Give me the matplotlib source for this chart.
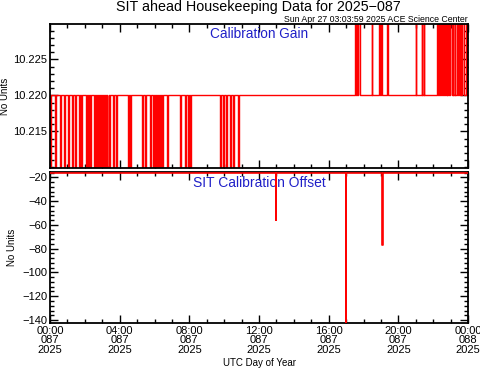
import numpy as np
import matplotlib
matplotlib.use("Agg")
import matplotlib.pyplot as plt
from matplotlib.ticker import MultipleLocator, FormatStrFormatter

# hours of day 087, 2025
gain_base = 10.220
gain_low = 10.210
gain_high = 10.230
# short drops to 10.210 (start hour, duration in hours)
gain_low_start = [0.00, 0.27, 0.59, 0.80, 1.03, 1.28, 1.42, 1.66, 1.80, 2.05, 2.18, 2.32, 2.52, 2.66,
                  2.78, 2.88, 2.98, 3.10, 3.20, 3.30, 3.40, 3.61, 3.81, 4.47, 4.57, 5.30, 5.47, 5.76,
                  5.90, 6.00, 6.10, 6.20, 6.30, 6.42, 6.74, 7.44, 7.77, 7.92, 8.02,
                  9.74, 9.93, 10.12, 10.31, 10.50, 10.79]
gain_low_dur = [0.06, 0.08, 0.06, 0.06, 0.08, 0.06, 0.06, 0.06, 0.06, 0.06, 0.06, 0.06, 0.06, 0.06,
                0.06, 0.06, 0.08, 0.06, 0.06, 0.06, 0.06, 0.06, 0.06, 0.06, 0.06, 0.06, 0.06, 0.06,
                0.06, 0.06, 0.06, 0.06, 0.08, 0.06, 0.06, 0.06, 0.06, 0.06, 0.06,
                0.06, 0.06, 0.06, 0.06, 0.06, 0.06]
# short jumps to 10.230
gain_high_start = [17.50, 17.57, 17.64, 17.71, 18.46, 18.89, 19.00, 19.35, 21.00, 21.33, 21.45,
                   22.22, 22.28, 22.35, 22.42, 22.49, 22.56, 22.63, 22.70, 22.77, 22.84, 22.91, 22.98,
                   23.11, 23.24, 23.36, 23.47, 23.54, 23.61, 23.68, 23.91]
gain_high_dur = [0.05, 0.05, 0.05, 0.08, 0.04, 0.04, 0.04, 0.04, 0.04, 0.04, 0.04,
                 0.05, 0.05, 0.05, 0.05, 0.05, 0.05, 0.05, 0.05, 0.05, 0.05, 0.05, 0.08,
                 0.04, 0.04, 0.04, 0.05, 0.05, 0.05, 0.08, 0.04]

offset_base = -16.0
offset_spike_time = [12.96, 16.97, 19.08]
offset_spike_val = [-56.0, -150.0, -77.0]

xtick_hours = [0, 4, 8, 12, 16, 20, 24]
xtick_labels = ["00:00\n087\n2025", "04:00\n087\n2025", "08:00\n087\n2025", "12:00\n087\n2025",
                "16:00\n087\n2025", "20:00\n087\n2025", "00:00\n088\n2025"]


def step_series(base, events):
    events = sorted(events)
    t = [0.0]
    v = [base]
    for s, d, lv in events:
        t += [s, s + d]
        v += [lv, base]
    t.append(24.0)
    v.append(base)
    return t, v


plt.rcParams['font.family'] = ['Liberation Sans', 'DejaVu Sans']
fig = plt.figure(figsize=(4.81, 3.71), dpi=100)
ax1 = fig.add_axes([0.104, 0.547, 0.869, 0.388])
ax2 = fig.add_axes([0.104, 0.1294, 0.869, 0.4070])

red = "#ff0000"
blue = "#2020c8"

gain_events = [(s, d, gain_low) for s, d in zip(gain_low_start, gain_low_dur)]
gain_events += [(s, d, gain_high) for s, d in zip(gain_high_start, gain_high_dur)]
t, v = step_series(gain_base, gain_events)
ax1.plot(t, v, drawstyle="steps-post", color=red, lw=1.0)
ax1.set_ylim(10.2099, 10.2299)

offset_events = [(s, 0.02, val) for s, val in zip(offset_spike_time, offset_spike_val)]
t2, v2 = step_series(offset_base, offset_events)
ax2.plot(t2, v2, drawstyle="steps-post", color=red, lw=1.2, zorder=5)
ax2.set_ylim(-142.5, -15.5)

for ax in (ax1, ax2):
    ax.set_xlim(0, 24)
    ax.xaxis.set_major_locator(MultipleLocator(4))
    ax.xaxis.set_minor_locator(MultipleLocator(1))
    ax.tick_params(which="both", direction="in", top=True, right=True, width=1.0,
                   labelsize=8, pad=2)
    ax.tick_params(which="major", length=6)
    ax.tick_params(which="minor", length=3)
    for sp in ax.spines.values():
        sp.set_linewidth(1.3)
    ax.set_ylabel("No Units", fontsize=7)

ax1.yaxis.set_label_coords(-0.096, 0.5)
ax2.yaxis.set_label_coords(-0.080, 0.5)

ax1.yaxis.set_major_locator(MultipleLocator(0.005))
ax1.yaxis.set_minor_locator(MultipleLocator(0.001))
ax1.yaxis.set_major_formatter(FormatStrFormatter("%.3f"))
ax1.set_yticks([10.215, 10.220, 10.225])
ax1.tick_params(labelbottom=False)

ax2.yaxis.set_major_locator(MultipleLocator(20))
ax2.yaxis.set_minor_locator(MultipleLocator(4))
ax2.set_xticks(xtick_hours)
ax2.set_xticklabels(xtick_labels, linespacing=0.95)
ax2.set_xlabel("UTC Day of Year", fontsize=7)
ax2.xaxis.set_label_coords(0.5, -0.23)

ax1.text(0.5, 0.93, "Calibration Gain", transform=ax1.transAxes, ha="center", va="center",
         color=blue, fontsize=9.8)
ax2.text(0.5, 0.93, "SIT Calibration Offset", transform=ax2.transAxes, ha="center", va="center",
         color=blue, fontsize=10)

fig.text(0.538, 1 - 11 / 371, "SIT ahead Housekeeping Data for 2025\u2212087", ha="center",
         va="baseline", fontsize=10.3)
fig.text(0.973, 1 - 21.5 / 371, "Sun Apr 27 03:03:59 2025 ACE Science Center", ha="right",
         va="baseline", fontsize=6.3)

fig.savefig("out.png", dpi=100)
